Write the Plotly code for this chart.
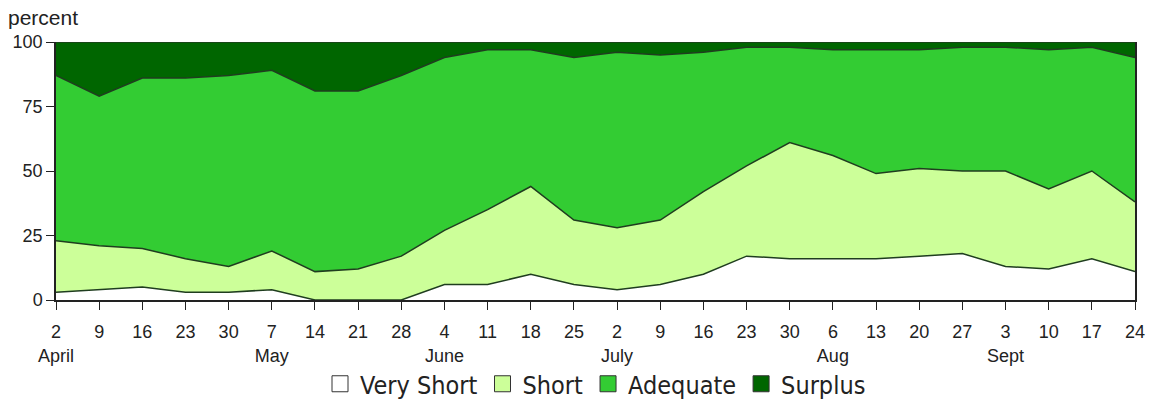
import plotly.graph_objects as go

weeks = ["2<br>April", "9", "16", "23", "30", "7<br>May", "14", "21", "28",
         "4<br>June", "11", "18", "25", "2<br>July", "9", "16", "23", "30",
         "6<br>Aug", "13", "20", "27", "3<br>Sept", "10", "17", "24"]

very_short = [3, 4, 5, 3, 3, 4, 0, 0, 0, 6, 6, 10, 6, 4, 6, 10, 17, 16, 16, 16, 17, 18, 13, 12, 16, 11]
short = [20, 17, 15, 13, 10, 15, 11, 12, 17, 21, 29, 34, 25, 24, 25, 32, 35, 45, 40, 33, 34, 32, 37, 31, 34, 27]
adequate = [64, 58, 66, 70, 74, 70, 70, 69, 70, 67, 62, 53, 63, 68, 64, 54, 46, 37, 41, 48, 46, 48, 48, 54, 48, 56]
surplus = [13, 21, 14, 14, 13, 11, 19, 19, 13, 6, 3, 3, 6, 4, 5, 4, 2, 2, 3, 3, 3, 2, 2, 3, 2, 6]

FONT = "Liberation Sans, Arial, sans-serif"
LEGEND_FONT = "DejaVu Sans Condensed, Liberation Sans Narrow, Arial Narrow, sans-serif"
x = list(range(len(weeks)))

series = [
    ("Very Short", very_short, "#FFFFFF"),
    ("Short", short, "#CCFF99"),
    ("Adequate", adequate, "#33CC33"),
    ("Surplus", surplus, "#006600"),
]

fig = go.Figure()
for name, vals, color in series:
    fig.add_trace(go.Scatter(
        x=x, y=vals, name=name, mode="lines",
        stackgroup="one", fillcolor=color,
        line=dict(color="#1f3d1f", width=1.5),
        hoverinfo="x+y+name", showlegend=False,
    ))

# square swatches for the legend, like the original
for name, vals, color in series:
    fig.add_trace(go.Scatter(
        x=[None], y=[None], name=name, mode="markers",
        marker=dict(symbol="square", size=16, color=color,
                    line=dict(color="#333333", width=1)),
    ))

fig.update_layout(
    width=1149, height=407,
    margin=dict(l=56, r=14, t=42, b=107),
    paper_bgcolor="white", plot_bgcolor="white",
    font=dict(family=FONT, size=18, color="#222222"),
    showlegend=True,
    legend=dict(orientation="h", x=0.5, xanchor="center",
                y=-0.01, yref="container", yanchor="bottom",
                bgcolor="rgba(0,0,0,0)",
                font=dict(size=25, family=LEGEND_FONT), traceorder="normal",
                itemwidth=30),
    annotations=[dict(text="percent", x=0, xref="paper", xanchor="left",
                      y=1.0, yref="paper", yanchor="middle", showarrow=False,
                      xshift=-50, yshift=25, font=dict(size=21, family=FONT))],
)

fig.update_xaxes(
    range=[0, len(weeks) - 1], tickvals=x, ticktext=weeks,
    ticks="outside", ticklen=8, tickcolor="#222222", ticklabelstandoff=7,
    showline=True, linecolor="#222222", linewidth=1.5,
    showgrid=False, zeroline=False, tickangle=0, automargin=False,
)
fig.update_yaxes(
    range=[0, 100], tickvals=[0, 25, 50, 75, 100],
    ticks="outside", ticklen=8, tickcolor="#222222",
    showline=True, linecolor="#222222", linewidth=1.5, mirror=True,
    showgrid=False, zeroline=False, automargin=False,
)

# drop the page's default body margin so the chart sits at 0,0
fig.write_html("out.html", config={"displayModeBar": False},
               post_script="document.body.style.margin='0';")
